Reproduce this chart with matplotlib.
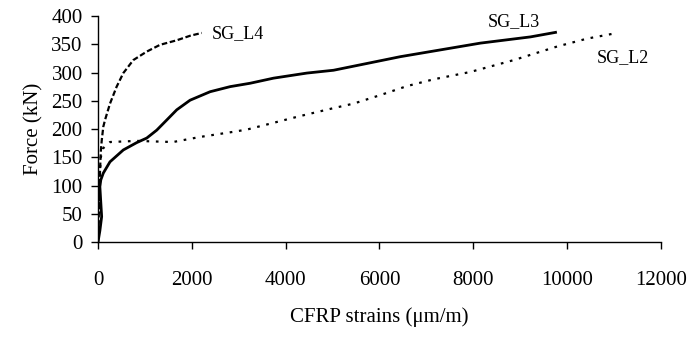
import matplotlib.pyplot as plt

plt.rcParams["font.family"] = ["Liberation Serif", "DejaVu Serif"]

# SG_L4 (dashed)
l4_x = [0, 15, 30, 45, 60, 80, 113, 150, 256, 398, 540, 753, 1039, 1323, 1679, 1963, 2212]
l4_y = [0, 40, 90, 130, 160, 180, 204, 216, 245, 275, 299, 322, 337, 349, 357, 365, 370]

# SG_L3 (solid)
l3_x = [0, 40, 78, 60, 40, 60, 113, 256, 540, 826, 1039, 1252, 1466, 1679, 1963, 2390,
        2817, 3244, 3742, 4453, 5022, 5734, 6445, 7228, 8152, 9219, 9753]
l3_y = [0, 20, 45, 70, 98, 110, 122, 142, 163, 176, 184, 198, 216, 234, 251, 266,
        275, 281, 290, 299, 304, 316, 328, 339, 352, 363, 371]

# SG_L2 (dotted)
l2_x = [0, 20, 40, 60, 110, 256, 826, 1600, 2177, 2880, 3172, 3742, 4311, 5022, 5449,
        6018, 6588, 7157, 7939, 8864, 9788, 10429, 11069]
l2_y = [0, 60, 120, 150, 166, 177, 179, 177, 186, 195, 199, 211, 223, 237, 245,
        260, 276, 288, 301, 322, 346, 360, 370]

fig = plt.figure(figsize=(6.92, 3.4), dpi=100)
ax = fig.add_axes([0.1416, 0.288, 0.8135, 0.665])

ax.plot(l2_x, l2_y, color="black", lw=1.6, dashes=(1.2, 3.0))
ax.plot(l3_x, l3_y, color="black", lw=2.0)
ax.plot(l4_x, l4_y, color="black", lw=1.6, dashes=(2.5, 1.2))

ax.text(2430, 369, "SG_L4", fontsize=13, va="center", ha="left")
ax.text(8300, 390, "SG_L3", fontsize=13, va="center", ha="left")
ax.text(10640, 326, "SG_L2", fontsize=13, va="center", ha="left")

ax.set_xlim(0, 12000)
ax.set_ylim(0, 400)
ax.set_xticks(range(0, 12001, 2000))
ax.set_yticks(range(0, 401, 50))
for s in ["top", "right"]:
    ax.spines[s].set_visible(False)
for s in ["left", "bottom"]:
    ax.spines[s].set_linewidth(1.0)
ax.tick_params(axis="x", direction="out", length=5, width=1, pad=16, labelsize=15)
ax.tick_params(axis="y", direction="out", length=5, width=1, pad=6, labelsize=15)

ax.set_xlabel("CFRP strains (μm/m)", fontsize=15, labelpad=12)
ax.set_ylabel("Force (kN)", fontsize=15, labelpad=6)

fig.savefig("out.png", dpi=100)
